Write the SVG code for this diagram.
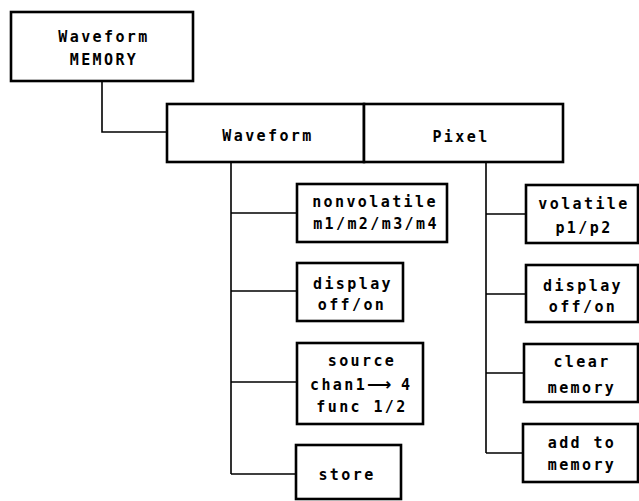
<svg xmlns="http://www.w3.org/2000/svg" width="639" height="501" viewBox="0 0 639 501">
<style>
.box{fill:#fff;stroke:#000;stroke-width:2.6}
.ln{fill:none;stroke:#000;stroke-width:1.6}
text{font-family:"DejaVu Sans Mono","Liberation Mono",monospace;font-weight:bold;font-size:15px;letter-spacing:2.4px;text-anchor:middle;fill:#000}
</style>
<rect width="639" height="501" fill="#fff"/>
<g id="connectors">
<path class="ln" d="M102,81 V132 H167"/>
<path class="ln" d="M231,162 V474 M231,213 H297 M231,291 H297 M231,382 H297 M231,474 H296"/>
<path class="ln" d="M486,162 V453 M486,214 H526 M486,294 H526 M486,373 H524 M486,453 H523"/>
</g>
<g id="memory">
<rect class="box" x="11" y="12" width="182" height="69"/>
<text x="104" y="42">Waveform</text>
<text x="104" y="65">MEMORY</text>
</g>
<g id="waveform">
<rect class="box" x="167" y="104" width="197" height="58"/>
<text x="268" y="141">Waveform</text>
</g>
<g id="pixel">
<rect class="box" x="364" y="104" width="199" height="58"/>
<text x="461" y="142">Pixel</text>
</g>
<g id="nonvolatile">
<rect class="box" x="297" y="184" width="150" height="58"/>
<text x="375" y="207">nonvolatile</text>
<text x="376" y="229">m1/m2/m3/m4</text>
</g>
<g id="display-w">
<rect class="box" x="297" y="263" width="106" height="58"/>
<text x="353" y="289">display</text>
<text x="352" y="310">off/on</text>
</g>
<g id="source">
<rect class="box" x="297" y="343" width="126" height="81"/>
<text x="362" y="366">source</text>
<text x="310" y="390" style="text-anchor:start">chan1<tspan x="367" style="letter-spacing:0;font-family:'DejaVu Sans',sans-serif;font-size:17px">⟶</tspan><tspan x="401">4</tspan></text>
<text x="362" y="412">func 1/2</text>
</g>
<g id="store">
<rect class="box" x="296" y="445" width="105" height="54"/>
<text x="347" y="480">store</text>
</g>
<g id="volatile">
<rect class="box" x="526" y="185" width="112" height="58"/>
<text x="584" y="209">volatile</text>
<text x="584" y="233">p1/p2</text>
</g>
<g id="display-p">
<rect class="box" x="526" y="265" width="112" height="57"/>
<text x="583" y="291">display</text>
<text x="583" y="312">off/on</text>
</g>
<g id="clear">
<rect class="box" x="524" y="344" width="114" height="58"/>
<text x="582" y="367">clear</text>
<text x="582" y="393">memory</text>
</g>
<g id="addto">
<rect class="box" x="523" y="424" width="115" height="58"/>
<text x="582" y="448">add to</text>
<text x="582" y="470">memory</text>
</g>
</svg>
